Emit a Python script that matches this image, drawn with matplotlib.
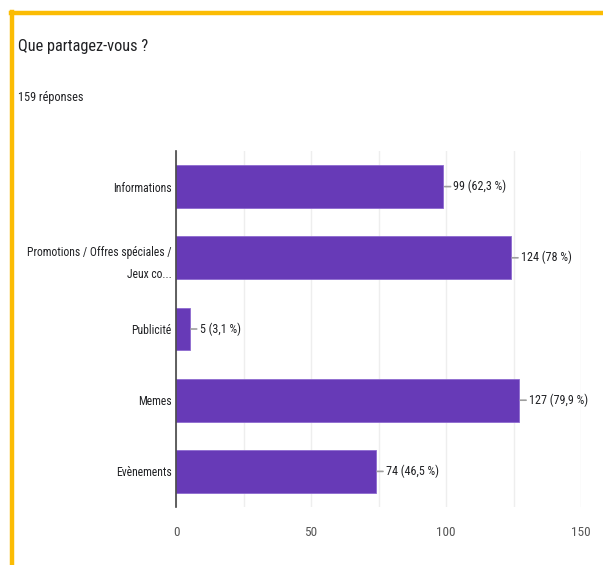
import matplotlib.pyplot as plt
from matplotlib import font_manager as fm
from matplotlib.lines import Line2D

categories = ['Informations', 'Promotions / Offres spéciales /\nJeux co...', 'Publicité',
              'Memes', 'Evènements']
counts = [99, 124, 5, 127, 74]
percents = ['62,3', '78', '3,1', '79,9', '46,5']
total = 159

# pick a narrow face if one is installed, otherwise a smaller regular one
narrow = None
for want in ['Roboto Condensed', 'Liberation Sans Narrow', 'DejaVu Sans Condensed', 'Open Sans Condensed']:
    for f in fm.fontManager.ttflist:
        label = (f.name + ' ' + f.fname).replace('-', ' ').replace('_', ' ')
        if want.lower().replace(' ', '') in label.lower().replace(' ', '') and f.weight in (400, 'normal', 'regular') \
                and f.style == 'normal':
            narrow = f.fname
            break
    if narrow:
        break


def fp(size):
    if narrow:
        return dict(fontproperties=fm.FontProperties(fname=narrow, size=size))
    return dict(family='Roboto', fontsize=size * 0.8)


W, H = 603, 565
fig = plt.figure(figsize=(W / 100, H / 100), dpi=100)

# yellow frame on the top and left edges
frame = '#fbbc04'
fig.add_artist(Line2D([11 / W, 1], [1 - 13 / H, 1 - 13 / H], color=frame, lw=3.2))
fig.add_artist(Line2D([12 / W, 12 / W], [0, 1 - 12 / H], color=frame, lw=3.2))

fig.text(18 / W, 1 - 47 / H, 'Que partagez-vous ?', color='#202124', va='center', **fp(11.8))
fig.text(18 / W, 1 - 97 / H, f'{total} réponses', color='#202124', va='center', **fp(8.8))

ax = fig.add_axes([176 / W, 1 - 507 / H, (581 - 176) / W, (507 - 151) / H])
ypos = list(range(len(categories)))
ax.barh(ypos, counts, height=0.6, color='#673ab7', edgecolor='#8e6ad0', linewidth=0.6, zorder=3)

for y, c, p in zip(ypos, counts, percents):
    ax.annotate(f'{c} ({p} %)', xy=(c, y), xytext=(10, 0), textcoords='offset pixels',
                va='center', ha='left', color='#202124', **fp(8.7),
                arrowprops=dict(arrowstyle='-', color='#9e9e9e', lw=1.2,
                                shrinkA=0, shrinkB=1))

ax.set_xlim(0, 150)
ax.set_ylim(len(categories) - 0.5, -0.5)
ax.set_yticks(ypos)
ax.set_yticklabels(categories, color='#202124', linespacing=1.9, **fp(8.4))
ax.set_xticks([0, 50, 100, 150])
ax.set_xticklabels(['0', '50', '100', '150'], color='#555555', **fp(9.5))
ax.set_xticks([25, 75, 125], minor=True)
ax.tick_params(axis='x', which='both', length=0, pad=14)
ax.tick_params(axis='y', length=0, pad=3)
ax.grid(axis='x', which='both', color='#eeeeee', lw=1, zorder=0)

for s in ['top', 'right', 'bottom']:
    ax.spines[s].set_visible(False)
ax.spines['left'].set_color('#444444')
ax.spines['left'].set_linewidth(1.2)
ax.spines['left'].set_zorder(4)

fig.savefig('out.png', dpi=100, facecolor='white')
